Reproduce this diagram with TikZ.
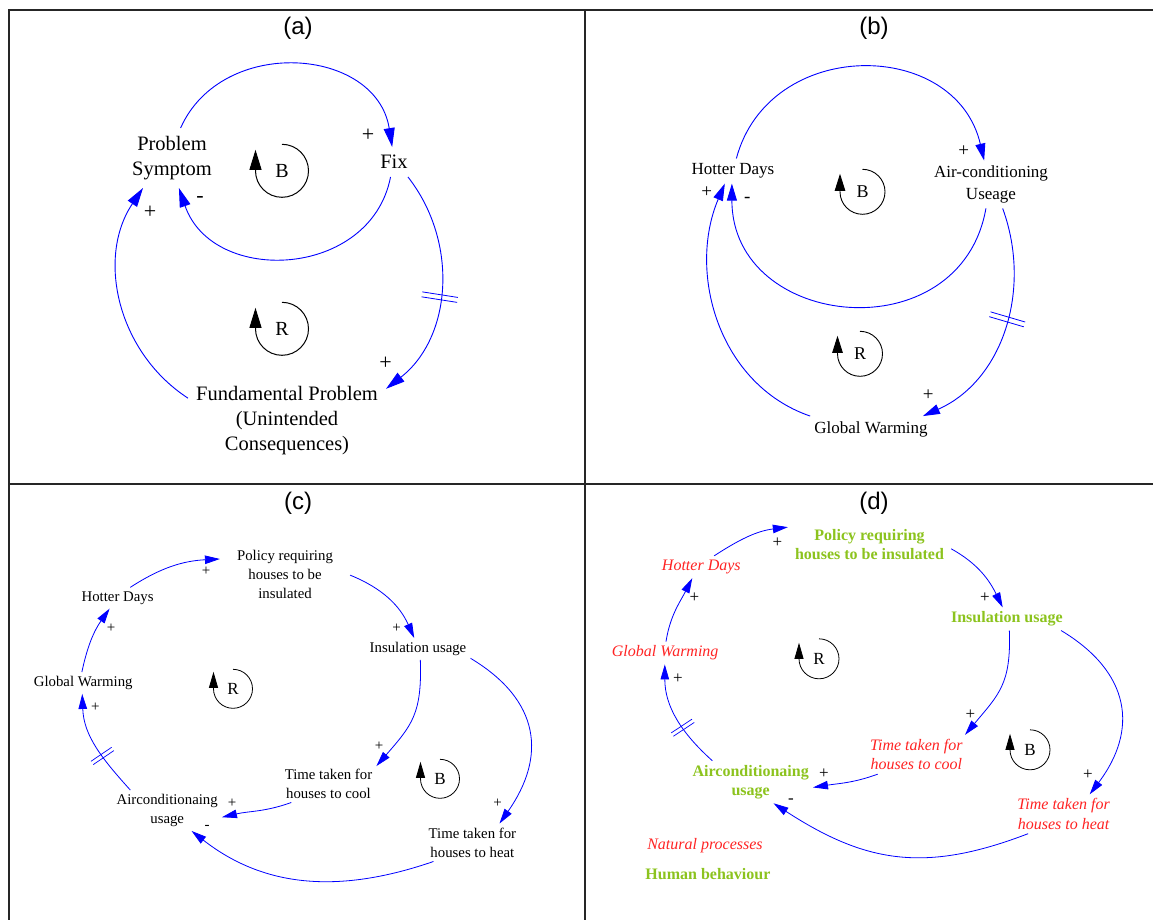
\documentclass[tikz,border=0pt]{standalone}
\usepackage{fontspec}
\setmainfont{Liberation Serif}
\newfontfamily\labelfont{Liberation Sans}
\usetikzlibrary{arrows.meta,decorations.markings}
\definecolor{natred}{RGB}{255,35,35}
\definecolor{humgreen}{RGB}{140,195,30}

\begin{document}
\begin{tikzpicture}[x=1pt,y=1pt]
\tikzstyle{panelframe}=[line width=1.4pt, black!85]
\tikzstyle{panel}=[font=\labelfont\fontsize{24}{28}\selectfont]
\tikzstyle{vara}=[align=center, inner sep=8pt, font=\fontsize{20.5}{25}\selectfont]
\tikzstyle{varb}=[align=center, inner sep=5pt, font=\fontsize{17}{22}\selectfont]
\tikzstyle{varc}=[align=center, inner sep=4pt, font=\fontsize{14.8}{19}\selectfont]
\tikzstyle{natural}=[align=center, inner sep=4pt, text=natred, font=\fontsize{16}{19.5}\selectfont\itshape]
\tikzstyle{human}=[align=center, inner sep=4pt, text=humgreen, font=\fontsize{16}{19.5}\selectfont\bfseries]
\tikzstyle{signa}=[inner sep=0pt, font=\fontsize{22}{24}\selectfont]
\tikzstyle{signb}=[inner sep=0pt, font=\fontsize{19}{22}\selectfont]
\tikzstyle{signc}=[inner sep=0pt, font=\fontsize{15}{18}\selectfont]
\tikzstyle{signd}=[inner sep=0pt, font=\fontsize{17}{20}\selectfont]
\tikzstyle{linka}=[draw=blue, line width=0.9pt, -{Triangle[length=19pt,width=11pt]}]
\tikzstyle{linkb}=[draw=blue, line width=0.9pt, -{Triangle[length=17pt,width=10pt]}]
\tikzstyle{linkc}=[draw=blue, line width=0.8pt, -{Triangle[length=15pt,width=8.5pt]}]
\tikzstyle{linkd}=[draw=blue, line width=0.8pt, -{Triangle[length=15pt,width=8.5pt]}]
\tikzstyle{delaybig}=[postaction={decorate, decoration={markings, mark=at position #1 with {\draw[-, blue, line width=0.8pt] (-2.5,-18) -- (-2.5,18) (2.5,-18) -- (2.5,18);}}}]
\tikzstyle{delaysmall}=[postaction={decorate, decoration={markings, mark=at position #1 with {\draw[-, blue, line width=0.7pt] (-2,-12.5) -- (-2,12.5) (2,-12.5) -- (2,12.5);}}}]
\tikzstyle{loopa}=[circle, minimum size=53pt, inner sep=0pt, font=\fontsize{20}{24}\selectfont]
\tikzstyle{loopb}=[circle, minimum size=45pt, inner sep=0pt, font=\fontsize{18}{22}\selectfont]
\tikzstyle{loopc}=[circle, minimum size=39pt, inner sep=0pt, font=\fontsize{17}{20}\selectfont]
\tikzstyle{loopd}=[circle, minimum size=40pt, inner sep=0pt, font=\fontsize{17}{20}\selectfont]
\tikzstyle{turna}=[black, line width=1pt, -{Triangle[length=20pt,width=12pt]}]
\tikzstyle{turnb}=[black, line width=0.9pt, -{Triangle[length=17pt,width=10.5pt]}]
\tikzstyle{turnc}=[black, line width=0.8pt, -{Triangle[length=16pt,width=9pt]}]

\useasboundingbox (0,0) rectangle (1153,-920);

% frame of the four panels
\draw[panelframe] (9,-920) -- (9,-10) -- (1153,-10);
\draw[panelframe] (585,-10) -- (585,-920);
\draw[panelframe] (9,-484) -- (1153,-484);

% (a) fixes that fail
\draw (298,-28) node[panel] (titlea) {(a)};
\draw (172,-158) node[vara] (symptom) {Problem\\Symptom};
\draw (394,-162) node[vara] (fix) {Fix};
\draw (287,-421) node[vara] (fundamental) {Fundamental Problem\\(Unintended\\Consequences)};

\draw (symptom.74) edge[linka, out=66, in=99, looseness=1.22] (fix.97);
\draw (fix.-103) edge[linka, out=-101, in=-71, looseness=1.25] (symptom.-77);
\draw (fix.-47) edge[linka, out=-52, in=38, delaybig=0.54] (fundamental.18);
\draw (fundamental.167) edge[linka, out=147, in=-124] (symptom.-134);

\draw (368,-135) node[signa] (plusa1) {+};
\draw (200,-199) node[signa] (minusa) {-};
\draw (150,-212) node[signa] (plusa2) {+};
\draw (385.5,-363) node[signa] (plusa3) {+};

\draw (282,-171) node[loopa] (balancea) {B};
\draw[turna] (balancea.north) arc[start angle=90, end angle=-180, radius=26.5pt] -- ++(0,21);
\draw (282,-329) node[loopa] (reinfa) {R};
\draw[turna] (reinfa.north) arc[start angle=90, end angle=-180, radius=26.5pt] -- ++(0,21);

% (b) air-conditioning
\draw (874,-28) node[panel] (titleb) {(b)};
\draw (733,-171) node[varb] (hotterb) {Hotter Days};
\draw (991,-184.5) node[varb] (aircon) {Air-conditioning\\Useage};
\draw (871,-429) node[varb] (warmingb) {Global Warming};

\draw (hotterb.75) edge[linkb, out=75, in=103, looseness=1.3] (aircon.106);
\draw (aircon.-102) edge[linkb, out=-100, in=-90, looseness=1.47] (hotterb.-95);
\draw (aircon.-64) edge[linkb, out=-70, in=24, delaybig=0.46] (warmingb.14);
\draw (warmingb.168) edge[linkb, out=161, in=-113] (hotterb.-123);

\draw (963.8,-151) node[signb] (plusb1) {+};
\draw (706.8,-192) node[signb] (plusb2) {+};
\draw (747.4,-200) node[signb] (minusb) {-};
\draw (928.3,-395) node[signb] (plusb3) {+};

\draw (862.5,-192) node[loopb] (balanceb) {B};
\draw[turnb] (balanceb.north) arc[start angle=90, end angle=-180, radius=22.5pt] -- ++(0,18);
\draw (860,-354) node[loopb] (reinfb) {R};
\draw[turnb] (reinfb.north) arc[start angle=90, end angle=-180, radius=22.5pt] -- ++(0,18);

% (c) insulation policy
\draw (298,-503) node[panel] (titlec) {(c)};
\draw (285,-574) node[varc, inner xsep=17pt] (policyc) {Policy requiring\\houses to be\\insulated};
\draw (117.6,-598) node[varc] (hotterc) {Hotter Days};
\draw (83.2,-683) node[varc] (warmingc) {Global Warming};
\draw (418,-649) node[varc] (insulc) {Insulation usage};
\draw (328.5,-783.5) node[varc] (coolc) {Time taken for\\houses to cool};
\draw (167.2,-810.5) node[varc] (acc) {Airconditionaing\\usage};
\draw (472.4,-842.5) node[varc] (heatc) {Time taken for\\houses to heat};

\draw (hotterc.40) edge[linkc, out=33, in=183] (policyc.167);
\draw (policyc.-1) edge[linkc, out=-22, in=114] (insulc.109);
\draw (insulc.-78) edge[linkc, out=-88, in=49, looseness=1.2] (coolc.20);
\draw (coolc.-153) edge[linkc, out=-160, in=13] (acc.-7);
\draw (insulc.-10) edge[linkc, out=-31, in=55, looseness=1.25] (heatc.35);
\draw (heatc.-154) edge[linkc, out=-161, in=-38] (acc.-40);
\draw (acc.151) edge[linkc, out=132, in=-88, delaysmall=0.4] (warmingc.-95);
\draw (warmingc.97) edge[linkc, out=78, in=-125] (hotterc.-127);

\draw (206,-571.7) node[signc] (plusc1) {+};
\draw (396.6,-628.3) node[signc] (plusc2) {+};
\draw (111,-628.3) node[signc] (plusc3) {+};
\draw (95.4,-707.7) node[signc] (plusc4) {+};
\draw (379.2,-746) node[signc] (plusc5) {+};
\draw (232,-803.3) node[signc] (plusc6) {+};
\draw (207.2,-827.7) node[signc] (minusc) {-};
\draw (497.6,-803.3) node[signc] (plusc7) {+};

\draw (233,-689) node[loopc] (reinfc) {R};
\draw[turnc] (reinfc.north) arc[start angle=90, end angle=-180, radius=19.5pt] -- ++(0,17);
\draw (440,-779) node[loopc] (balancec) {B};
\draw[turnc] (balancec.north) arc[start angle=90, end angle=-180, radius=19.5pt] -- ++(0,17);

% (d) natural processes and human behaviour
\draw (874,-503) node[panel] (titled) {(d)};
\draw (869.5,-544.5) node[human, inner xsep=7pt] (policyd) {Policy requiring\\houses to be insulated};
\draw (701.3,-567) node[natural] (hotterd) {Hotter Days};
\draw (665.2,-653) node[natural] (warmingd) {Global Warming};
\draw (1006.9,-619) node[human] (insuld) {Insulation usage};
\draw (916.3,-754.5) node[natural] (coold) {Time taken for\\houses to cool};
\draw (750.7,-782) node[human] (acd) {Airconditionaing\\usage};
\draw (1063.6,-814) node[natural] (heatd) {Time taken for\\houses to heat};
\draw (705,-846) node[natural] (legendnat) {Natural processes};
\draw (707.9,-874) node[human] (legendhum) {Human behaviour};

\draw (hotterd.41) edge[linkd, out=33, in=187] (policyd.168);
\draw (policyd.-3) edge[linkd, out=-29, in=116] (insuld.110);
\draw (insuld.-78) edge[linkd, out=-88, in=50, looseness=1.2] (coold.22);
\draw (coold.-153) edge[linkd, out=-160, in=9] (acd.-5);
\draw (insuld.-12) edge[linkd, out=-31, in=53, looseness=1.25] (heatd.37);
\draw (heatd.-151) edge[linkd, out=-159, in=-33, looseness=1.1] (acd.-43);
\draw (acd.151) edge[linkd, out=138, in=-90, delaysmall=0.4] (warmingd.-92);
\draw (warmingd.86) edge[linkd, out=81, in=-117] (hotterd.-129);

\draw (777.4,-542.3) node[signd] (plusd1) {+};
\draw (985,-597.3) node[signd] (plusd2) {+};
\draw (694.4,-597.3) node[signd] (plusd3) {+};
\draw (678,-678.3) node[signd] (plusd4) {+};
\draw (970.4,-714.3) node[signd] (plusd5) {+};
\draw (823.8,-773.3) node[signd] (plusd6) {+};
\draw (790.9,-800.7) node[signd] (minusd) {-};
\draw (1088,-774.3) node[signd] (plusd7) {+};

\draw (819,-659) node[loopd] (reinfd) {R};
\draw[turnc] (reinfd.north) arc[start angle=90, end angle=-180, radius=20pt] -- ++(0,16);
\draw (1030,-750) node[loopd] (balanced) {B};
\draw[turnc] (balanced.north) arc[start angle=90, end angle=-180, radius=20pt] -- ++(0,16);
\end{tikzpicture}
\end{document}
